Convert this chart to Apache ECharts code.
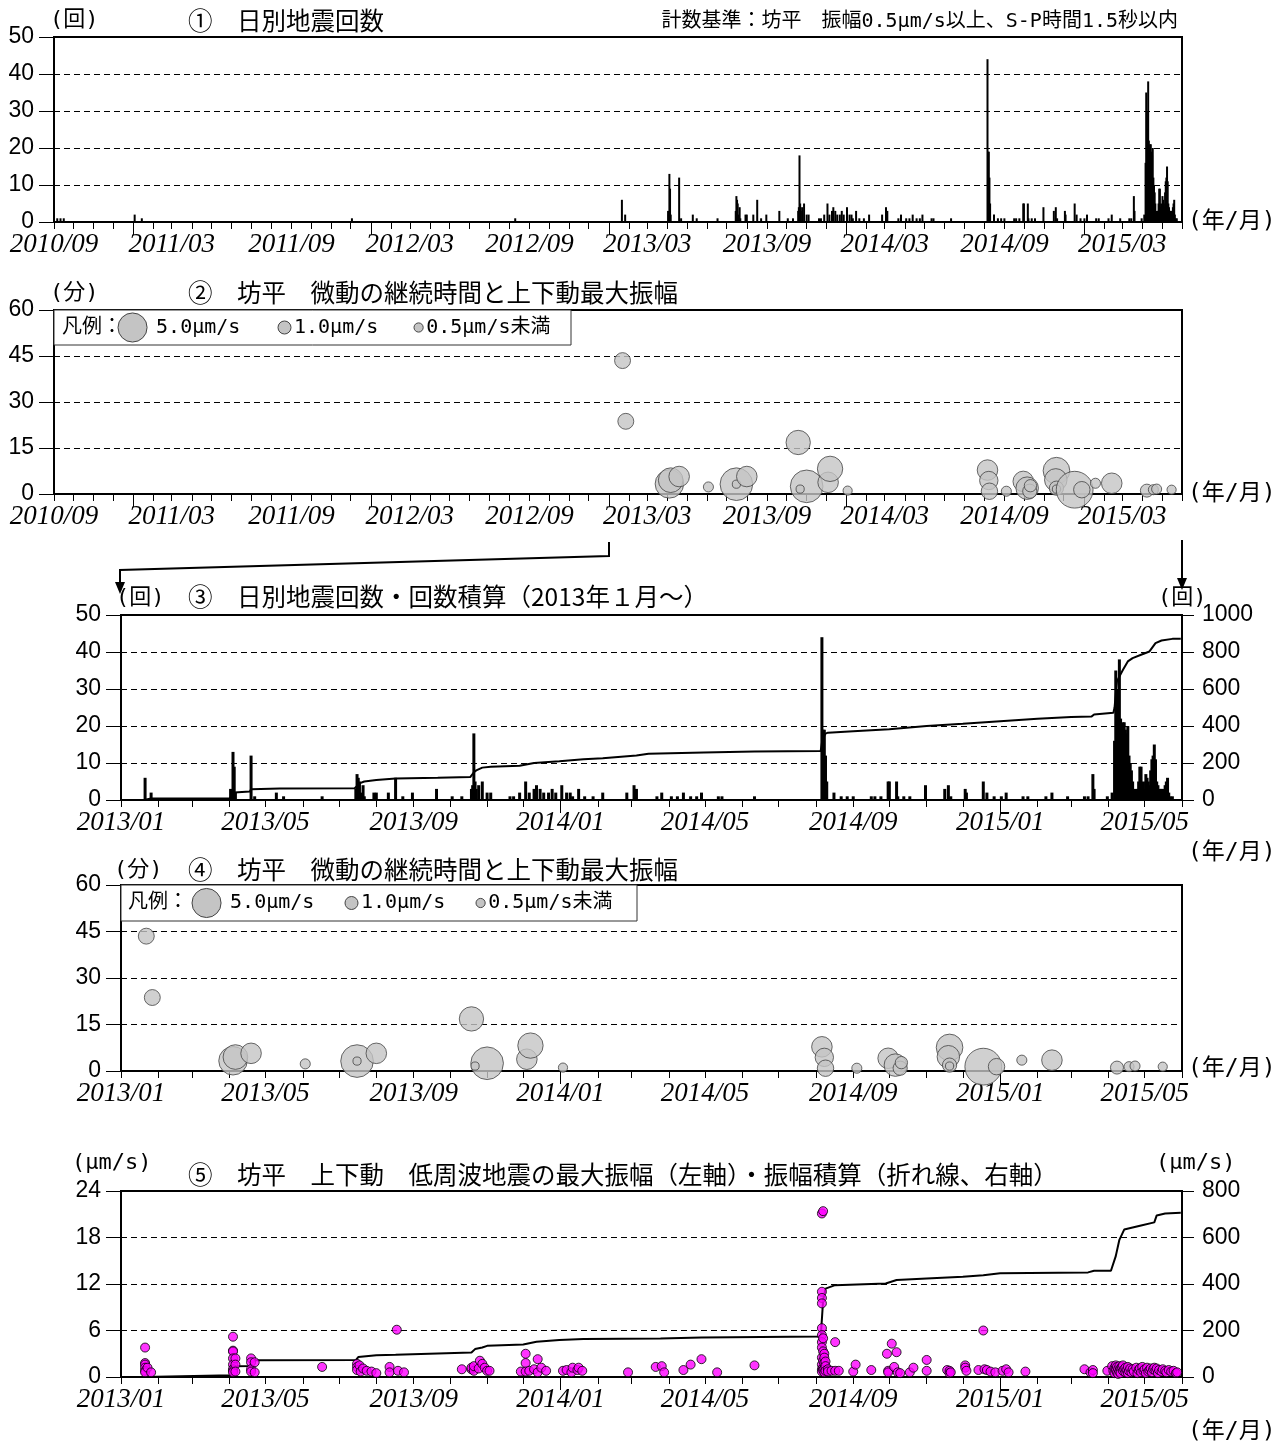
<!DOCTYPE html>
<html><head><meta charset="utf-8">
<script src="https://cdn.jsdelivr.net/npm/echarts@6/dist/echarts.min.js"></script>
<style>html,body{margin:0;padding:0;background:#fff}#c{width:1284px;height:1447px}</style>
</head><body><div id="c"></div>
<script>
// ---------- DATA ----------
const dailyCounts = [
['2010-09-06',1],['2010-09-11',1],['2010-09-16',1],
['2011-01-03',2],['2011-01-14',1],['2011-12-03',1],['2012-08-10',1],
['2013-01-21',6],['2013-01-26',2],
['2013-04-02',3],['2013-04-03',2],['2013-04-04',13],['2013-04-05',9],['2013-04-06',2],['2013-04-19',12],['2013-04-22',1],
['2013-05-10',2],['2013-05-16',1],['2013-06-17',1],
['2013-07-15',3],['2013-07-16',7],['2013-07-17',6],['2013-07-18',5],['2013-07-19',2],['2013-07-21',4],['2013-07-22',1],['2013-07-30',2],['2013-08-01',2],['2013-08-11',2],['2013-08-17',6],['2013-08-23',1],['2013-08-31',2],
['2013-09-20',3],['2013-10-03',1],['2013-10-11',1],
['2013-10-19',3],['2013-10-20',4],['2013-10-21',18],['2013-10-22',5],['2013-10-23',3],['2013-10-25',4],['2013-10-28',5],['2013-11-01',2],['2013-11-04',2],
['2013-11-20',1],['2013-11-23',1],['2013-11-28',2],
['2013-12-03',5],['2013-12-06',2],['2013-12-10',3],['2013-12-12',4],['2013-12-15',3],['2013-12-18',2],['2013-12-22',2],['2013-12-25',3],['2013-12-28',2],
['2014-01-02',4],['2014-01-06',2],['2014-01-09',2],['2014-01-11',1],['2014-01-16',3],['2014-01-21',1],['2014-01-28',1],['2014-02-05',2],['2014-02-25',2],['2014-03-03',4],['2014-03-05',3],
['2014-03-22',1],['2014-03-26',2],['2014-04-03',1],['2014-04-08',1],['2014-04-13',2],['2014-04-19',1],['2014-04-24',1],['2014-04-28',2],['2014-05-12',1],['2014-05-15',1],['2014-06-11',1],
['2014-08-06',44],['2014-08-07',19],['2014-08-08',19],['2014-08-09',12],['2014-08-10',5],
['2014-08-16',2],['2014-08-22',1],['2014-08-27',1],['2014-09-01',1],['2014-09-16',1],['2014-09-19',1],['2014-09-24',1],['2014-09-30',5],['2014-10-01',5],['2014-10-07',5],['2014-10-08',1],['2014-10-13',1],['2014-10-18',1],['2014-10-31',4],
['2014-11-16',3],['2014-11-19',4],['2014-11-21',1],['2014-12-03',3],['2014-12-04',2],['2014-12-18',5],['2014-12-21',2],['2014-12-27',1],
['2015-01-02',1],['2015-01-06',2],['2015-01-20',1],['2015-01-24',1],['2015-02-08',1],['2015-02-13',2],['2015-02-26',1],['2015-03-12',1],['2015-03-15',1],['2015-03-19',7],['2015-03-20',3],['2015-03-31',1],['2015-04-04',2],
['2015-04-06',16],['2015-04-07',35],['2015-04-08',30],['2015-04-09',25],['2015-04-10',38],['2015-04-11',22],['2015-04-12',20],['2015-04-13',21],['2015-04-14',21],['2015-04-15',19],['2015-04-16',18],['2015-04-17',20],['2015-04-18',12],['2015-04-19',10],['2015-04-20',8],['2015-04-21',5],['2015-04-22',2],['2015-04-23',3],['2015-04-24',2],['2015-04-25',3],['2015-04-26',5],['2015-04-27',9],['2015-04-28',9],['2015-04-29',4],['2015-04-30',5],
['2015-05-01',3],['2015-05-02',7],['2015-05-03',6],['2015-05-04',5],['2015-05-05',4],['2015-05-06',8],['2015-05-07',11],['2015-05-08',12],['2015-05-09',15],['2015-05-10',11],['2015-05-11',5],['2015-05-12',4],['2015-05-13',2],['2015-05-14',3],['2015-05-15',3],['2015-05-16',2],['2015-05-17',3],['2015-05-18',4],['2015-05-19',5],['2015-05-20',6],['2015-05-21',2],['2015-05-22',1],['2015-05-24',1]
];

// cumulative count (right axis of panel 3)
const cumCounts = [
['2013-01-01',0],['2013-01-20',0],['2013-01-21',6],['2013-01-26',8],['2013-04-01',8],['2013-04-02',12],['2013-04-05',40],['2013-04-06',44],['2013-04-18',46],['2013-04-19',58],['2013-05-13',62],['2013-07-14',64],['2013-07-16',75],['2013-07-18',90],['2013-07-22',100],['2013-08-01',108],['2013-08-17',116],['2013-09-21',120],['2013-10-18',124],['2013-10-21',150],['2013-10-23',160],['2013-10-28',175],['2013-11-04',180],['2013-11-28',185],['2013-12-10',200],['2013-12-31',210],['2014-01-20',220],['2014-02-05',226],['2014-03-05',240],['2014-03-15',250],['2014-04-30',257],['2014-06-11',262],['2014-08-05',265],['2014-08-06',309],['2014-08-07',328],['2014-08-08',347],['2014-08-09',359],['2014-08-11',364],['2014-09-01',372],['2014-10-01',382],['2014-11-01',400],['2014-12-01',412],['2015-01-01',426],['2015-02-01',439],['2015-03-01',448],['2015-03-18',452],['2015-03-20',462],['2015-04-05',471],['2015-04-06',500],['2015-04-08',641],['2015-04-10',668],['2015-04-13',704],['2015-04-17',749],['2015-04-21',767],['2015-04-28',785],['2015-05-05',803],['2015-05-10',848],['2015-05-15',862],['2015-05-24',871],['2015-05-31',871]
];

// tremor events: [date, duration (min), max vertical amplitude (um/s)]
const tremors = [
['2013-01-22',43.5,1.5],['2013-01-27',23.7,1.5],
['2013-04-04',3.3,4.8],['2013-04-06',4.5,3.6],['2013-04-19',5.7,2.5],
['2013-06-03',2.3,0.6],
['2013-07-16',3.2,6.3],['2013-07-16',3.2,0.4],['2013-08-01',5.7,2.5],
['2013-10-19',16.8,3.5],['2013-11-01',2.5,6.3],['2013-10-22',1.6,0.4],
['2013-12-04',3.8,2.5],['2013-12-07',8.2,3.8],['2014-01-03',1.1,0.5],
['2014-08-06',7.8,2.5],['2014-08-08',4.4,2.0],['2014-08-09',0.9,1.6],
['2014-09-04',0.9,0.6],
['2014-09-30',4.1,2.5],['2014-10-06',1.9,3.0],['2014-10-10',0.9,1.2],['2014-10-11',2.7,0.9],
['2014-11-20',7.6,4.2],['2014-11-19',4.6,3.0],['2014-11-20',1.9,1.2],['2014-11-20',1.6,0.4],
['2014-12-18',1.4,8.0],['2014-12-29',1.4,1.6],
['2015-01-19',3.5,0.6],['2015-02-13',3.5,2.5],
['2015-04-08',1.1,1.0],['2015-04-18',1.4,0.6],['2015-04-23',1.6,0.6],['2015-05-16',1.4,0.5]
];

// low-frequency earthquakes: [date, max amplitude (um/s)]
const lfAmps = [
['2013-01-21',3.8],['2013-01-21',1.8],['2013-01-21',1.6],['2013-01-21',1.2],['2013-01-21',0.8],['2013-01-21',0.6],['2013-01-23',1.2],['2013-01-26',0.6],
['2013-04-04',5.2],['2013-04-04',3.4],['2013-04-04',3.3],['2013-04-04',2.4],['2013-04-04',1.6],['2013-04-04',1.0],['2013-04-04',0.8],['2013-04-04',0.6],
['2013-04-06',2.4],['2013-04-06',1.6],['2013-04-06',0.7],
['2013-04-19',2.4],['2013-04-19',1.9],['2013-04-19',1.0],['2013-04-19',0.7],['2013-04-22',1.9],['2013-04-22',0.6],
['2013-06-17',1.3],
['2013-07-16',1.7],['2013-07-16',1.3],['2013-07-16',0.9],['2013-07-18',1.5],['2013-07-19',0.7],['2013-07-21',1.1],['2013-07-24',0.8],['2013-07-28',0.7],['2013-08-01',0.5],
['2013-08-12',1.3],['2013-08-12',0.6],['2013-08-18',6.1],['2013-08-19',0.8],['2013-08-24',0.6],
['2013-10-11',1.0],['2013-10-19',1.0],['2013-10-19',1.2],['2013-10-21',0.8],['2013-10-21',1.4],['2013-10-25',1.1],['2013-10-26',2.1],['2013-10-28',1.7],['2013-10-30',1.2],['2013-11-01',0.8],['2013-11-03',0.8],
['2013-11-29',0.7],['2013-12-03',3.0],['2013-12-03',1.8],['2013-12-03',0.7],['2013-12-06',0.8],['2013-12-10',1.0],['2013-12-13',2.3],['2013-12-13',0.6],['2013-12-16',1.2],['2013-12-20',0.8],
['2014-01-03',0.8],['2014-01-06',0.9],['2014-01-10',0.6],['2014-01-11',1.2],['2014-01-15',0.9],['2014-01-16',1.2],['2014-01-19',0.8],['2014-02-26',0.6],
['2014-03-21',1.3],['2014-03-26',1.4],['2014-03-28',0.6],['2014-04-13',0.9],['2014-04-19',1.6],['2014-04-28',2.3],['2014-05-11',0.6],['2014-06-11',1.5],
['2014-08-06',21.1],['2014-08-06',11.0],['2014-08-06',10.2],['2014-08-06',9.5],['2014-08-06',6.3],['2014-08-06',5.4],['2014-08-06',4.5],['2014-08-06',3.8],['2014-08-06',2.5],['2014-08-06',1.6],['2014-08-06',1.0],['2014-08-06',0.7],
['2014-08-07',21.4],['2014-08-07',5.0],['2014-08-07',3.3],['2014-08-07',2.1],['2014-08-07',1.2],['2014-08-07',0.9],
['2014-08-08',3.0],['2014-08-08',2.5],['2014-08-08',1.8],['2014-08-08',1.0],['2014-08-08',0.6],['2014-08-09',2.0],['2014-08-09',1.4],['2014-08-09',0.8],['2014-08-11',1.0],['2014-08-11',0.7],['2014-08-14',0.8],['2014-08-17',4.5],['2014-08-17',0.8],['2014-08-20',0.8],
['2014-09-01',0.7],['2014-09-03',1.6],['2014-09-16',0.9],['2014-09-29',3.0],['2014-09-30',0.8],['2014-09-30',0.6],['2014-10-03',4.3],['2014-10-05',1.3],['2014-10-07',3.2],['2014-10-08',0.6],['2014-10-10',0.5],['2014-10-18',0.6],['2014-10-21',1.2],
['2014-11-01',2.2],['2014-11-01',0.8],['2014-11-18',0.9],['2014-11-20',0.8],['2014-11-20',0.5],['2014-11-21',0.6],['2014-12-03',1.5],['2014-12-03',1.2],['2014-12-04',0.8],['2014-12-14',0.9],['2014-12-18',6.0],['2014-12-19',1.0],['2014-12-21',0.9],['2014-12-24',0.7],['2014-12-28',0.6],
['2015-01-03',0.8],['2015-01-06',1.0],['2015-01-08',0.6],['2015-01-22',0.7],['2015-03-12',1.0],['2015-03-17',0.6],['2015-03-19',0.9],['2015-03-19',0.5],['2015-03-31',0.8],
['2015-04-04',1.4],['2015-04-05',0.8],['2015-04-06',1.2],['2015-04-06',0.5],['2015-04-07',1.5],['2015-04-07',0.9],['2015-04-08',0.6],['2015-04-08',1.3],['2015-04-09',1.0],['2015-04-09',0.4],['2015-04-10',1.4],['2015-04-10',0.7],['2015-04-11',1.1],['2015-04-11',0.5],['2015-04-12',1.3],['2015-04-13',0.8],['2015-04-13',1.5],['2015-04-14',1.0],['2015-04-15',0.6],['2015-04-15',1.2],['2015-04-16',0.9],['2015-04-17',1.3],['2015-04-17',0.5],['2015-04-18',0.8],['2015-04-19',1.1],['2015-04-20',0.6],['2015-04-21',1.0],['2015-04-22',0.7],['2015-04-24',1.2],['2015-04-25',0.5],['2015-04-26',0.9],['2015-04-27',1.1],['2015-04-28',0.6],['2015-04-29',1.3],['2015-04-30',0.8],
['2015-05-01',1.0],['2015-05-02',0.5],['2015-05-03',1.2],['2015-05-04',0.7],['2015-05-05',0.9],['2015-05-06',1.1],['2015-05-07',0.6],['2015-05-08',1.0],['2015-05-09',1.2],['2015-05-10',0.8],['2015-05-11',1.1],['2015-05-12',0.5],['2015-05-13',0.9],['2015-05-15',0.7],['2015-05-16',1.0],['2015-05-18',0.8],['2015-05-19',0.6],['2015-05-21',0.9],['2015-05-23',0.7],['2015-05-25',0.8],['2015-05-27',0.5],['2015-05-28',0.6]
];

// cumulative amplitude (right axis of panel 5)
const cumAmps = [
['2013-01-01',0],['2013-01-20',0],['2013-01-21',7],['2013-04-03',8],['2013-04-04',40],['2013-04-06',46],['2013-04-18',47],['2013-04-19',66],['2013-04-22',72],['2013-07-15',73],['2013-07-17',86],['2013-08-01',94],['2013-08-17',96],['2013-08-18',102],['2013-10-19',105],['2013-10-22',120],['2013-10-28',127],['2013-11-01',134],['2013-12-01',140],['2013-12-12',152],['2013-12-31',159],['2014-01-20',163],['2014-03-25',166],['2014-04-28',170],['2014-08-05',174],['2014-08-06',250],['2014-08-07',330],['2014-08-09',380],['2014-08-17',395],['2014-09-28',402],['2014-10-07',417],['2014-11-01',424],['2014-12-01',431],['2014-12-18',438],['2015-01-01',446],['2015-03-15',450],['2015-03-20',457],['2015-04-03',457],['2015-04-07',520],['2015-04-10',590],['2015-04-14',634],['2015-04-28',652],['2015-05-09',665],['2015-05-11',695],['2015-05-18',703],['2015-05-31',706]
];

const legendAmps = [5.0, 1.0, 0.5];
const legendTexts = ['5.0μm/s', '1.0μm/s', '0.5μm/s未満'];

// ---------- HELPERS ----------
function t(s){const p=s.split('-').map(Number);return Date.UTC(p[0],p[1]-1,p[2]);}
function months(y0,m0,y1,m1,step){const r=[];let y=y0,m=m0;while(y<y1||(y===y1&&m<=m1)){r.push(Date.UTC(y,m-1,1));m+=step;while(m>12){m-=12;y++;}}return r;}
function fmt(v){const d=new Date(v);return d.getUTCFullYear()+'/'+String(d.getUTCMonth()+1).padStart(2,'0');}
function bubble(a){return 13*Math.sqrt(a);}

const JP = "'DejaVu Sans Mono','Noto Sans CJK JP'";
const TITLE = "24.5px 'Noto Sans CJK JP'";

const grids = [
 {left:54, top:37, width:1128, height:185},
 {left:54, top:310, width:1128, height:184},
 {left:121, top:615, width:1061, height:185},
 {left:121, top:885, width:1061, height:186},
 {left:121, top:1191, width:1061, height:186}
];
const ranges = [
 ['2010-09-01','2015-06-01',months(2010,9,2015,6,1),months(2010,9,2015,3,6),months(2011,1,2015,1,12)],
 ['2010-09-01','2015-06-01',months(2010,9,2015,6,1),months(2010,9,2015,3,6),months(2011,1,2015,1,12)],
 ['2013-01-01','2015-06-01',months(2013,1,2015,6,1),months(2013,1,2015,5,4),months(2014,1,2015,1,12)],
 ['2013-01-01','2015-06-01',months(2013,1,2015,6,1),months(2013,1,2015,5,4),months(2014,1,2015,1,12)],
 ['2013-01-01','2015-06-01',months(2013,1,2015,6,1),months(2013,1,2015,5,4),months(2014,1,2015,1,12)]
];

const xAxis = [];
ranges.forEach((r,i)=>{
 xAxis.push({type:'value',gridIndex:i,min:t(r[0]),max:t(r[1]),position:'bottom',
  axisLine:{show:true,onZero:false,lineStyle:{color:'#000',width:2}},
  axisTick:{show:true,customValues:r[2],length:7,lineStyle:{color:'#000',width:1}},
  axisLabel:{show:true,customValues:r[3],formatter:fmt,fontFamily:'Liberation Serif',fontStyle:'italic',fontSize:27,color:'#000',margin:9,hideOverlap:false,showMinLabel:true,showMaxLabel:true},
  splitLine:{show:false}});
 xAxis.push({type:'value',gridIndex:i,min:t(r[0]),max:t(r[1]),position:'bottom',
  axisLine:{show:false,onZero:false},
  axisTick:{show:true,customValues:r[4],length:13,lineStyle:{color:'#000',width:1}},
  axisLabel:{show:false},splitLine:{show:false}});
});

function yAx(gi,max,interval,pos,split){
 return {type:'value',gridIndex:gi,min:0,max:max,interval:interval,position:pos,
  axisLine:{show:true,lineStyle:{color:'#000',width:2}},
  axisTick:{show:true,length:pos==='right'?12:15,lineStyle:{color:'#000',width:1}},
  axisLabel:{fontFamily:'Liberation Sans',fontSize:23,color:'#000',margin:20,formatter:v=>String(v)},
  splitLine:{show:split,lineStyle:{type:[6,4],color:'#000',width:1}}};
}
const yAxis = [
 yAx(0,50,10,'left',true),
 yAx(1,60,15,'left',true),
 yAx(2,50,10,'left',true),
 yAx(2,1000,200,'right',false),
 yAx(3,60,15,'left',true),
 yAx(4,24,6,'left',true),
 yAx(4,800,200,'right',false)
];

const barData = dailyCounts.map(d=>[t(d[0]),d[1]]);
const tremorData = tremors.map(d=>[t(d[0]),d[1],d[2]]);
const bubbleStyle = {color:'#c4c4c4',borderColor:'#444',borderWidth:1};

const series = [
 {type:'bar',xAxisIndex:0,yAxisIndex:0,data:barData,barWidth:2,itemStyle:{color:'#000'},silent:true},
 {type:'scatter',xAxisIndex:2,yAxisIndex:1,data:tremorData,symbolSize:v=>bubble(v[2]),itemStyle:bubbleStyle,silent:true},
 {type:'bar',xAxisIndex:4,yAxisIndex:2,data:barData,barWidth:3,itemStyle:{color:'#000'},silent:true},
 {type:'line',xAxisIndex:4,yAxisIndex:3,data:cumCounts.map(d=>[t(d[0]),d[1]]),showSymbol:false,lineStyle:{color:'#000',width:2},z:5,silent:true},
 {type:'scatter',xAxisIndex:6,yAxisIndex:4,data:tremorData,symbolSize:v=>bubble(v[2]),itemStyle:bubbleStyle,silent:true},
 {type:'line',xAxisIndex:8,yAxisIndex:6,data:cumAmps.map(d=>[t(d[0]),d[1]]),showSymbol:false,lineStyle:{color:'#000',width:2},z:3,silent:true},
 {type:'scatter',xAxisIndex:8,yAxisIndex:5,data:lfAmps.map(d=>[t(d[0]),d[1]]),symbolSize:9,itemStyle:{color:'#ff00ff',borderColor:'#000',borderWidth:1},z:4,silent:true}
];

function txt(x,y,s,font,align){return {type:'text',x:x,y:y,z:100,style:{text:s,font:font||TITLE,fill:'#000',align:align||'left',textAlign:align||'left',verticalAlign:'middle',textVerticalAlign:'middle'}};}

function legend(x0,y0,w,h,pos){
 const els=[{type:'rect',shape:{x:x0,y:y0,width:w,height:h},style:{fill:'#fff',stroke:'#333',lineWidth:1},z:90}];
 const f="20px "+JP;
 els.push(txt(pos[0],y0+h/2,'凡例：',f));
 legendAmps.forEach((a,i)=>{
  const r=bubble(a)/2;
  els.push({type:'circle',shape:{cx:pos[1+i]+r,cy:y0+h/2,r:r},style:{fill:'#c4c4c4',stroke:'#444',lineWidth:1},z:95});
  els.push(txt(pos[1+i]+2*r+(i===0?9:3),y0+h/2,legendTexts[i],f));
 });
 return els;
}

const U = "22px "+JP, YM = "23px "+JP;
const graphic = [
 txt(50,20,'(回)',U),
 txt(188,21,'①　日別地震回数'),
 txt(1178,22,'計数基準：坊平　振幅0.5μm/s以上、S-P時間1.5秒以内',"20px "+JP,'right'),
 txt(1188,222,'(年/月)',YM),
 txt(50,293,'(分)',U),
 txt(188,293,'②　坊平　微動の継続時間と上下動最大振幅'),
 txt(1188,494,'(年/月)',YM),
 txt(116,598,'(回)',U),
 txt(188,597,'③　日別地震回数・回数積算（2013年１月～）'),
 txt(1158,598,'(回)',U),
 txt(1188,853,'(年/月)',YM),
 txt(114,870,'(分)',U),
 txt(188,870,'④　坊平　微動の継続時間と上下動最大振幅'),
 txt(1188,1069,'(年/月)',YM),
 txt(72,1163,'(μm/s)',U),
 txt(188,1175,'⑤　坊平　上下動　低周波地震の最大振幅（左軸）・振幅積算（折れ線、右軸）'),
 txt(1156,1163,'(μm/s)',U),
 txt(1188,1432,'(年/月)',YM),
 {type:'polyline',shape:{points:[[609,542],[609,556],[120,570],[120,586]]},style:{stroke:'#000',lineWidth:2,fill:null},z:100},
 {type:'polygon',shape:{points:[[115,582],[125,582],[120,594]]},style:{fill:'#000'},z:100},
 {type:'polyline',shape:{points:[[1182,540],[1182,582]]},style:{stroke:'#000',lineWidth:2,fill:null},z:100},
 {type:'polygon',shape:{points:[[1177,578],[1187,578],[1182,590]]},style:{fill:'#000'},z:100}
].concat(legend(54,310,517,35,[62,118,278,414])).concat(legend(121,885,516,36,[128,192,345,476]));

const chart = echarts.init(document.getElementById('c'),null,{renderer:'canvas'});
chart.setOption({
 animation:false,
 backgroundColor:'#fff',
 grid:grids.map(g=>Object.assign({show:true,borderColor:'#000',borderWidth:2,backgroundColor:'transparent',containLabel:false},g)),
 xAxis:xAxis, yAxis:yAxis, series:series, graphic:graphic
});
</script></body></html>
